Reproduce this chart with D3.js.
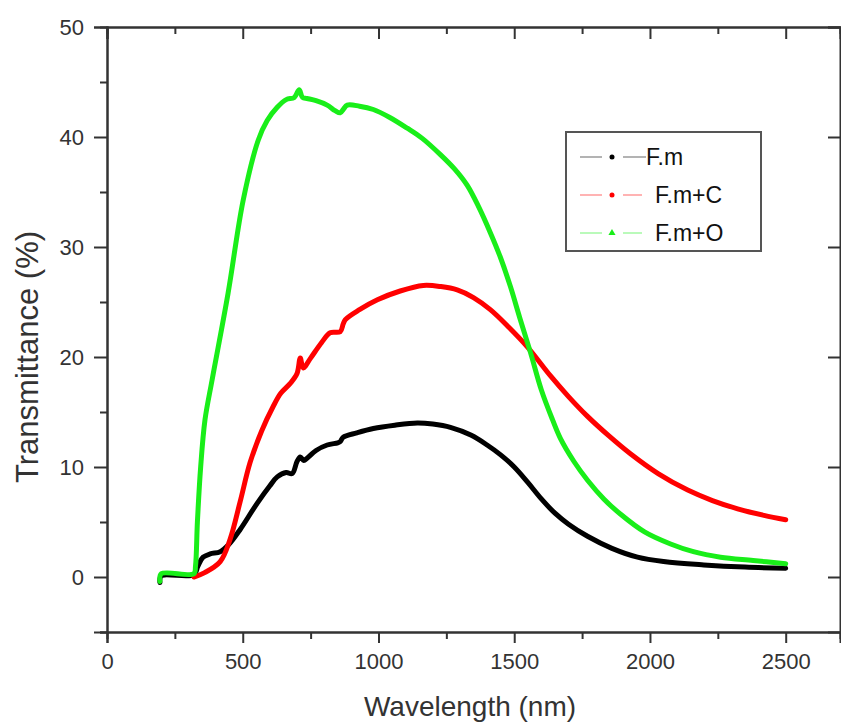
<!DOCTYPE html>
<html>
<head>
<meta charset="utf-8">
<script src="https://cdn.jsdelivr.net/npm/d3@7"></script>
<style>
  body { margin: 0; background: #fff; }
  svg { display: block; }
</style>
</head>
<body>
<div class="first"></div>
<script>
// curves, [wavelength nm, transmittance %]
const fm = [
  [195, -0.5], [200, 0.1], [320, 0.2], [335, 1.0], [354, 1.8], [380, 2.1], [417, 2.3],
  [450, 3.0], [490, 4.3], [553, 6.7], [600, 8.3], [627, 9.1], [660, 9.5], [682, 9.4],
  [700, 10.5], [712, 10.9], [725, 10.6], [737, 10.8], [770, 11.5], [811, 12.0],
  [850, 12.2], [859, 12.3], [870, 12.7], [920, 13.1], [981, 13.5], [1060, 13.8],
  [1143, 14.0], [1200, 13.9], [1265, 13.6], [1340, 12.9], [1400, 12.0], [1450, 11.1],
  [1500, 10.0], [1550, 8.6], [1600, 7.1], [1650, 5.8], [1700, 4.8], [1770, 3.7],
  [1860, 2.6], [1954, 1.8], [2050, 1.4], [2198, 1.1], [2350, 0.9], [2500, 0.8]
];
const fmC = [
  [320, 0.0], [360, 0.4], [417, 1.4], [453, 3.4], [490, 6.8], [527, 10.4], [570, 13.3],
  [612, 15.5], [640, 16.7], [675, 17.6], [700, 18.5], [712, 19.9], [723, 19.0],
  [750, 19.9], [790, 21.3], [822, 22.2], [859, 22.3], [870, 23.0], [878, 23.4],
  [930, 24.3], [996, 25.2], [1080, 26.0], [1165, 26.5], [1230, 26.4], [1290, 26.1],
  [1350, 25.4], [1412, 24.3], [1480, 22.7], [1549, 20.9], [1633, 18.3], [1700, 16.4],
  [1770, 14.6], [1850, 12.8], [1928, 11.2], [2030, 9.4], [2139, 7.9], [2230, 6.95],
  [2323, 6.2], [2420, 5.6], [2500, 5.2]
];
const fmO = [
  [195, -0.4], [200, 0.3], [320, 0.3], [326, 1.0], [333, 5.0], [345, 10.0], [361, 14.3],
  [387, 17.9], [446, 25.8], [502, 34.3], [557, 39.7], [590, 41.5], [627, 42.7],
  [660, 43.4], [690, 43.6], [708, 44.3], [720, 43.6], [737, 43.5], [770, 43.3],
  [811, 42.9], [840, 42.4], [859, 42.2], [870, 42.5], [885, 42.9], [930, 42.8],
  [981, 42.5], [1040, 41.8], [1106, 40.8], [1160, 39.9], [1228, 38.4], [1280, 37.1],
  [1327, 35.6], [1370, 33.6], [1412, 31.3], [1450, 29.0], [1486, 26.4], [1520, 23.6],
  [1560, 20.4], [1600, 17.0], [1641, 14.3], [1670, 12.6], [1720, 10.5], [1770, 8.8],
  [1830, 7.1], [1892, 5.7], [1980, 4.1], [2076, 3.0], [2160, 2.3], [2260, 1.8],
  [2380, 1.5], [2500, 1.2]
];

const seriesNames = ['F.m', 'F.m+C', 'F.m+O'];
const xTicks = [0, 500, 1000, 1500, 2000, 2500];
const yTicks = [0, 10, 20, 30, 40, 50];

function myVis() {
  const width = 841;
  const height = 725;
  const margin = {top: 27, left: 107, right: 1, bottom: 93};

  const colors = ['#000000', '#ff0000', '#19ee19'];
  const allSeries = [fm, fmC, fmO];

  const x = d3.scaleLinear().domain([0, 2700]).range([margin.left, width - margin.right]);
  const y = d3.scaleLinear().domain([-5, 50]).range([height - margin.bottom, margin.top]);

  const svg = d3.select('.first').append('svg')
    .attr('width', width).attr('height', height)
    .style('font-family', '"Liberation Sans", Arial, sans-serif');

  // minor ticks first, then the majors with labels on top
  const xMinor = d3.range(0, 2701, 250).filter(d => d % 500 !== 0);
  const yMinor = d3.range(-5, 51, 5).filter(d => d % 10 !== 0);

  const axisColor = '#333';

  // bottom
  svg.append('g').attr('transform', `translate(0, ${y(-5)})`)
    .call(d3.axisBottom(x).tickValues(xMinor).tickSize(7).tickFormat(''));
  svg.append('g').attr('class', 'xaxis').attr('transform', `translate(0, ${y(-5)})`)
    .call(d3.axisBottom(x).tickValues(xTicks).tickSize(11).tickPadding(10).tickFormat(d3.format('d')));
  // top (ticks point inside, no labels)
  svg.append('g').attr('transform', `translate(0, ${y(50)})`)
    .call(d3.axisBottom(x).tickValues(xMinor).tickSize(7).tickFormat(''));
  svg.append('g').attr('transform', `translate(0, ${y(50)})`)
    .call(d3.axisBottom(x).tickValues(xTicks).tickSize(12).tickFormat(''));
  // left
  svg.append('g').attr('transform', `translate(${x(0)}, 0)`)
    .call(d3.axisLeft(y).tickValues(yMinor).tickSize(7).tickFormat(''));
  svg.append('g').attr('class', 'yaxis').attr('transform', `translate(${x(0)}, 0)`)
    .call(d3.axisLeft(y).tickValues(yTicks).tickSize(13).tickPadding(10));
  // right
  svg.append('g').attr('transform', `translate(${x(2700)}, 0)`)
    .call(d3.axisLeft(y).tickValues(yTicks).tickSize(12).tickFormat(''));

  svg.selectAll('.domain').attr('stroke', axisColor).attr('stroke-width', 2);
  svg.selectAll('.tick line').attr('stroke', axisColor).attr('stroke-width', 2);
  svg.selectAll('.tick text').attr('fill', '#333').attr('font-size', 22);

  // the curves
  const line = d3.line()
    .x(d => x(d[0]))
    .y(d => y(d[1]))
    .curve(d3.curveCatmullRom.alpha(0.5));

  svg.selectAll('.curve').data(allSeries)
    .enter()
    .append('path')
    .attr('class', 'curve')
    .attr('d', d => line(d))
    .attr('fill', 'none')
    .attr('stroke', (d, i) => colors[i])
    .attr('stroke-width', 5)
    .attr('stroke-linejoin', 'round')
    .attr('stroke-linecap', 'round');

  // axis titles
  svg.append('text')
    .attr('x', 470).attr('y', 716)
    .attr('text-anchor', 'middle')
    .attr('font-size', 28)
    .attr('fill', '#333')
    .text('Wavelength (nm)');
  svg.append('text')
    .attr('transform', 'translate(38, 357) rotate(-90)')
    .attr('text-anchor', 'middle')
    .attr('font-size', 31)
    .attr('fill', '#333')
    .text('Transmittance (%)');

  // legend
  const legend = svg.append('g').attr('transform', 'translate(566, 132)');
  legend.append('rect')
    .attr('width', 195).attr('height', 119)
    .attr('fill', '#fff')
    .attr('stroke', '#555')
    .attr('stroke-width', 2);

  const rows = legend.selectAll('.row').data(seriesNames)
    .enter()
    .append('g')
    .attr('class', 'row')
    .attr('transform', (d, i) => `translate(0, ${25 + i * 38})`);
  rows.append('line')
    .attr('x1', 14).attr('x2', 36)
    .attr('stroke', (d, i) => colors[i]).attr('stroke-opacity', 0.4).attr('stroke-width', 1.5);
  rows.append('line')
    .attr('x1', 57).attr('x2', (d, i) => i === 0 ? 80 : 76)
    .attr('stroke', (d, i) => colors[i]).attr('stroke-opacity', 0.4).attr('stroke-width', 1.5);
  rows.filter((d, i) => i < 2).append('circle')
    .attr('cx', 46).attr('r', 2.5)
    .attr('fill', (d, i) => colors[i]);
  rows.filter((d, i) => i === 2).append('path')
    .attr('d', d3.symbol(d3.symbolTriangle, 22)())
    .attr('transform', 'translate(46, 0)')
    .attr('fill', colors[2]);
  rows.append('text')
    .attr('x', (d, i) => i === 0 ? 80 : 89)
    .attr('dy', '0.36em')
    .attr('font-size', 23)
    .attr('fill', '#111')
    .text(d => d);
}

document.addEventListener('DOMContentLoaded', () => myVis());
</script>
</body>
</html>
